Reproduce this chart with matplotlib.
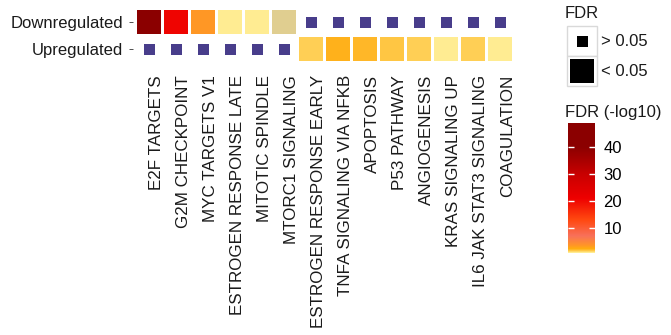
import numpy as np
import matplotlib
matplotlib.use("Agg")
import matplotlib.pyplot as plt
from matplotlib.colors import LinearSegmentedColormap, Normalize
from matplotlib.cm import ScalarMappable
from matplotlib.patches import Rectangle

plt.rcParams.update({
    "font.family": ["Liberation Sans", "DejaVu Sans"],
    "font.size": 12,
    "text.color": "#1a1a1a",
})

# --- Data (-log10 FDR, nan = not significant) ---
pathways = ["E2F TARGETS", "G2M CHECKPOINT", "MYC TARGETS V1", "ESTROGEN RESPONSE LATE",
            "MITOTIC SPINDLE", "MTORC1 SIGNALING", "ESTROGEN RESPONSE EARLY",
            "TNFA SIGNALING VIA NFKB", "APOPTOSIS", "P53 PATHWAY", "ANGIOGENESIS",
            "KRAS SIGNALING UP", "IL6 JAK STAT3 SIGNALING", "COAGULATION"]
directions = ["Upregulated", "Downregulated"]
nan = np.nan
up_fdr = [nan, nan, nan, nan, nan, nan, 1.4, 2.2, 1.9, 1.6, 1.4, 0.75, 1.4, 0.75]
down_fdr = [48.9, 20.5, 3.5, 0.8, 0.8, 0.8, nan, nan, nan, nan, nan, nan, nan, nan]
# tile that also carries a (semi-transparent) non-significant marker in the original
overlap = [("MTORC1 SIGNALING", "Downregulated")]

# colour scale anchors (value, colour)
scale_vals = [0.7, 0.8, 1.4, 1.6, 1.9, 2.2, 3.5, 7, 13, 21, 30, 40, 48.9]
scale_cols = ["#FFEC92", "#FFE688", "#FFC846", "#FFC03A", "#FFB423", "#FFAC10", "#FF9428",
              "#F8705A", "#FF4810", "#EE0000", "#C80000", "#8B0000", "#8B0000"]

vmin, vmax = scale_vals[0], scale_vals[-1]
cmap = LinearSegmentedColormap.from_list(
    "fdr", [((v - vmin) / (vmax - vmin), c) for v, c in zip(scale_vals, scale_cols)])
norm = Normalize(vmin, vmax)
PURPLE = "#483D8B"

W, H = 671, 335
fig = plt.figure(figsize=(W / 100, H / 100), dpi=100)

# main panel placed in pixel terms
x0, x1 = 132.8, 516.2
ytop, ybot = 5.8, 65.2
ax = fig.add_axes([x0 / W, 1 - ybot / H, (x1 - x0) / W, (ybot - ytop) / H])
ax.set_xlim(0.4, len(pathways) + 0.6)
ax.set_ylim(0.4, 2.6)

xs = np.arange(1, len(pathways) + 1)
for yi, vals in [(1, up_fdr), (2, down_fdr)]:
    vals = np.array(vals, dtype=float)
    sig = ~np.isnan(vals)
    ax.bar(xs[sig], 0.9, width=0.9, bottom=yi - 0.45, color=cmap(norm(vals[sig])), linewidth=0)
    ax.scatter(xs[~sig], np.full((~sig).sum(), yi), marker="s", s=(11 * 0.72) ** 2,
               color=PURPLE, linewidths=0)

for p, d in overlap:
    ax.bar(pathways.index(p) + 1, 0.9, width=0.9, bottom=directions.index(d) + 1 - 0.45,
           color=PURPLE, alpha=0.17, linewidth=0)

for s in ax.spines.values():
    s.set_visible(False)
ax.set_yticks([1, 2])
ax.set_yticklabels(directions)
ax.set_xticks(xs)
ax.set_xticklabels(pathways, rotation=90, ha="left", va="top", fontsize=12.25)
ax.tick_params(axis="y", length=2.6, width=0.6, color="#333333", pad=4.5, labelcolor="#1a1a1a")
ax.tick_params(axis="x", length=0, pad=7, labelcolor="#1a1a1a")

# legends, drawn in pixel coordinates
lax = fig.add_axes([0, 0, 1, 1], zorder=-1)
lax.set_xlim(0, W)
lax.set_ylim(H, 0)
lax.axis("off")

lax.text(565, 13, "FDR", ha="left", va="center")
for (ky, side, lab) in [(26, 11, "> 0.05"), (56, 24, "< 0.05")]:
    lax.add_patch(Rectangle((567, ky), 30, 30, facecolor="white", edgecolor="#d9d9d9", lw=1))
    lax.add_patch(Rectangle((582 - side / 2, ky + 15 - side / 2), side, side,
                            facecolor="black", lw=0))
    lax.text(601, ky + 16, lab, ha="left", va="center")

lax.text(565, 113, "FDR (-log10)", ha="left", va="center")
cax = fig.add_axes([568 / W, 1 - 253 / H, 27 / W, 130 / H])
cb = fig.colorbar(ScalarMappable(norm=norm, cmap=cmap), cax=cax, ticks=[10, 20, 30, 40])
cb.outline.set_visible(False)
cax.tick_params(direction="in", color="white", length=4, width=1,
                left=True, right=True, labelleft=False, labelright=True, pad=6)

fig.savefig("out.png", dpi=100)
